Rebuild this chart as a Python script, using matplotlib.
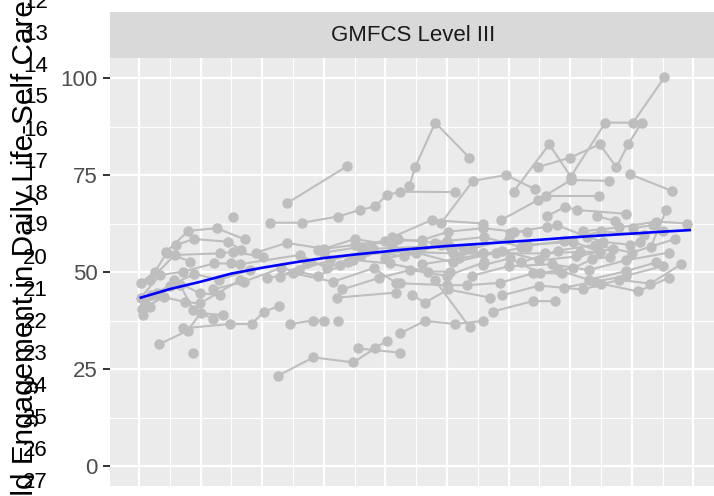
import matplotlib.pyplot as plt
import numpy as np

plt.rcParams['font.family'] = ['Liberation Sans', 'DejaVu Sans']

# one list per child: age and self-care engagement score
ages = [
    [2.03, 2.34, 2.72, 3.21, 3.50],
    [2.04, 2.26, 2.45, 2.83],
    [2.07, 2.18, 2.56, 2.99, 3.31],
    [2.05, 2.40, 2.75, 2.99, 3.64],
    [2.10, 2.30, 2.67, 2.88, 3.20],
    [2.18, 2.58, 3.31, 3.53, 4.02],
    [2.44, 2.80, 3.26, 3.72],
    [2.60, 2.90, 3.45, 3.65],
    [2.33, 2.79, 3.00, 3.37],
    [2.72, 3.48, 3.83, 4.03, 4.27],
    [4.45, 4.82, 5.00],
    [2.87],
    [5.23],
    [3.52],
    [4.12, 4.65, 5.23, 5.59, 5.83, 6.02, 6.24, 7.13],
    [4.40, 5.37],
    [4.26, 4.83, 5.48, 5.83, 6.02],
    [5.56, 6.24],
    [5.22, 6.17],
    [6.24, 6.64, 7.13, 7.58],
    [6.80, 7.37],
    [7.74, 8.39, 8.75],
    [6.43, 6.64, 7.02, 7.70],
    [6.24, 7.00, 7.32, 7.86, 8.40, 8.86],
    [7.59, 8.02, 8.51, 9.05, 9.35, 9.65],
    [4.07, 4.50, 5.15, 5.81, 6.18],
    [4.29, 4.72, 5.26, 5.48, 6.07, 6.69, 7.05],
    [3.64, 4.61, 5.05, 5.60, 6.30, 7.10, 7.59],
    [4.90, 5.50, 6.00, 6.59, 7.02, 7.59, 8.08, 8.30],
    [5.80, 6.59, 7.05, 7.27, 7.59, 8.59, 9.16, 9.48],
    [6.10, 6.75, 7.59],
    [7.88, 8.48, 9.01, 9.63],
    [8.02, 8.62, 8.78, 9.27, 9.54, 9.97, 10.13],
    [8.30, 9.05, 9.48],
    [8.62, 8.92, 9.11, 9.91],
    [9.43, 9.72],
    [10.02, 10.35, 10.50],
    [10.31, 10.56],
    [9.97, 10.65],
    [8.47, 9.00, 9.48, 9.75, 9.94, 10.16],
    [8.08, 8.66, 9.01, 9.57, 10.02, 10.53],
    [6.39, 6.48, 6.81, 7.36],
    [6.91, 7.42, 7.96, 8.43],
    [8.61, 9.46],
    [8.80, 9.30, 9.90, 10.40],
    [9.50, 10.10, 10.60],
    [4.60, 5.10, 5.70, 6.30, 6.90],
    [5.00, 5.60, 6.20, 6.80, 7.40, 8.00],
    [6.00, 6.50, 7.10, 7.80, 8.30],
    [6.60, 7.20, 7.90, 8.50, 9.10, 9.70],
    [7.00, 7.60, 8.20, 8.90, 9.50, 10.20],
    [7.40, 8.00, 8.70, 9.30, 9.90, 10.60],
    [8.20, 8.80, 9.40, 10.00, 10.70],
    [3.20, 3.70, 4.30, 4.90, 5.40],
    [3.90, 4.40, 5.00, 5.50, 6.10],
    [5.30, 5.90, 6.40, 7.00, 7.60],
    [8.90, 9.40, 9.90, 10.50],
    [9.20, 9.80, 10.40, 10.90],
    [2.20, 2.50, 2.90, 3.30, 3.80],
    [7.90, 8.50, 9.20, 9.80, 10.30, 10.80],
]
scores = [
    [43.4, 49.2, 50.1, 52.2, 52.2],
    [47.2, 50.1, 55.0, 52.7],
    [38.9, 41.0, 47.9, 44.5, 44.1],
    [40.5, 43.5, 42.3, 41.9, 47.9],
    [42.0, 44.5, 46.6, 40.2, 38.0],
    [47.9, 54.4, 54.8, 55.2, 53.9],
    [55.2, 60.6, 61.3, 58.4],
    [57.0, 58.5, 57.8, 55.7],
    [31.4, 34.9, 39.4, 38.9],
    [35.5, 36.6, 36.6, 39.8, 41.2],
    [36.6, 37.5, 37.5],
    [29.2],
    [37.5],
    [64.3],
    [62.7, 62.7, 64.3, 66.0, 66.9, 69.8, 70.7, 70.6],
    [67.7, 77.2],
    [23.3, 28.0, 26.7, 30.3, 32.3],
    [30.3, 29.2],
    [43.4, 44.7],
    [34.2, 37.4, 36.6, 37.4],
    [48.0, 35.7],
    [39.8, 42.5, 42.5],
    [44.1, 42.1, 45.5, 43.4],
    [47.1, 46.6, 46.6, 47.2, 49.7, 49.7],
    [51.8, 53.5, 49.7, 51.0, 53.3, 53.9],
    [48.4, 49.7, 47.5, 51.0, 47.1],
    [48.8, 52.2, 51.8, 53.1, 52.2, 50.1, 50.1],
    [52.0, 54.4, 51.0, 54.5, 55.2, 54.8, 54.8],
    [55.7, 57.0, 58.0, 58.2, 60.4, 61.3, 60.4, 60.4],
    [56.0, 56.5, 56.5, 55.7, 54.8, 54.8, 55.2, 55.2],
    [58.9, 63.4, 62.5],
    [63.4, 68.6, 73.7, 73.5],
    [60.0, 61.7, 62.1, 59.1, 57.8, 57.0, 57.8],
    [57.0, 57.8, 55.2],
    [64.4, 66.8, 66.0, 65.0],
    [64.4, 63.2],
    [61.3, 62.1, 60.5],
    [56.5, 66.0],
    [75.2, 70.9],
    [77.0, 79.5, 82.9, 77.0, 82.9, 88.5],
    [70.7, 82.9, 74.6, 88.5, 88.5, 100.2],
    [72.2, 77.0, 88.5, 79.5],
    [62.7, 73.5, 75.0, 71.3],
    [69.6, 69.6],
    [50.5, 48.0, 50.2, 52.5],
    [47.0, 45.0, 48.5],
    [50.5, 53.0, 55.5, 54.0, 57.0],
    [55.0, 56.5, 58.5, 57.5, 56.0, 58.5],
    [53.5, 55.0, 52.5, 55.0, 56.5],
    [52.0, 53.5, 55.5, 53.0, 54.0, 56.0],
    [58.0, 59.0, 56.5, 58.0, 60.5, 59.5],
    [49.0, 51.5, 52.0, 50.5, 53.0, 55.0],
    [52.5, 55.5, 57.0, 55.0, 58.5],
    [45.5, 47.5, 51.0, 49.0, 52.5],
    [55.0, 57.5, 56.0, 58.5, 57.0],
    [45.5, 48.5, 50.5, 49.0, 52.5],
    [46.0, 47.5, 49.0, 51.5],
    [60.5, 61.5, 63.0, 62.5],
    [44.0, 46.5, 49.5, 48.0, 50.5],
    [44.0, 46.5, 45.5, 48.0, 47.0, 52.0],
]

# smoothed group trend
fit_age = [2.03, 2.5, 3.0, 3.5, 4.0, 4.61, 5.0, 5.5, 6.0, 6.24, 7.0, 7.86, 8.5, 9.0, 9.48, 10.0, 10.5, 10.94]
fit_score = [43.4, 45.6, 47.5, 49.6, 51.1, 52.7, 53.6, 54.5, 55.3, 55.7, 56.7, 57.6, 58.3, 58.9, 59.4, 59.9, 60.4, 60.8]

y_ticks = [0, 25, 50, 75, 100]
side_labels = ['12', '13', '14', '15', '16', '17', '18', '19',
               '20', '21', '22', '23', '24', '25', '26', '27']

W, H = 714, 496
fig = plt.figure(figsize=(W / 100, H / 100), dpi=100)

ax = fig.add_axes([110 / W, 10 / H, 607 / W, 427.7 / H])
ax.set_facecolor('#EBEBEB')
for s in ax.spines.values():
    s.set_visible(False)
ax.set_xlim(1.529, 11.383)
ax.set_ylim(-5.15, 105.08)
ax.set_xticks(np.arange(2, 12))
ax.set_xticks(np.arange(2.5, 11, 1), minor=True)
ax.set_yticks(y_ticks)
ax.set_yticks([12.5, 37.5, 62.5, 87.5], minor=True)
ax.grid(which='major', color='white', lw=1.6)
ax.grid(which='minor', color='white', lw=0.8)
ax.set_axisbelow(True)
ax.tick_params(axis='x', which='both', length=0, labelbottom=False)
ax.tick_params(axis='y', which='major', length=5, width=1.4, color='#333333',
               labelsize=16, labelcolor='#4D4D4D', pad=4)
ax.tick_params(axis='y', which='minor', length=0)

for a, s in zip(ages, scores):
    ax.plot(a, s, color='#BEBEBE', lw=1.5, marker='o', ms=6.5, zorder=2)
ax.plot(fit_age, fit_score, color='blue', lw=1.9, zorder=3)

# facet strip
strip = fig.add_axes([110 / W, (H - 58.3) / H, 607 / W, 46 / H])
strip.set_facecolor('#D9D9D9')
strip.set_xticks([])
strip.set_yticks([])
for s in strip.spines.values():
    s.set_visible(False)
strip.text(0.5, 0.5, 'GMFCS Level III', ha='center', va='center',
           fontsize=16, color='#1A1A1A', transform=strip.transAxes)

fig.text(33 / W, 1 - 270 / H, 'Child Engagement in Daily Life-Self Care',
         rotation=90, rotation_mode='anchor', ha='center', va='baseline',
         fontsize=21.4, color='black')

for i, lab in enumerate(side_labels):
    fig.text(48 / W, 1 - (2 + 32 * i) / H, lab, ha='right', va='center',
             fontsize=16, color='black')

fig.savefig('out.png', dpi=100)
